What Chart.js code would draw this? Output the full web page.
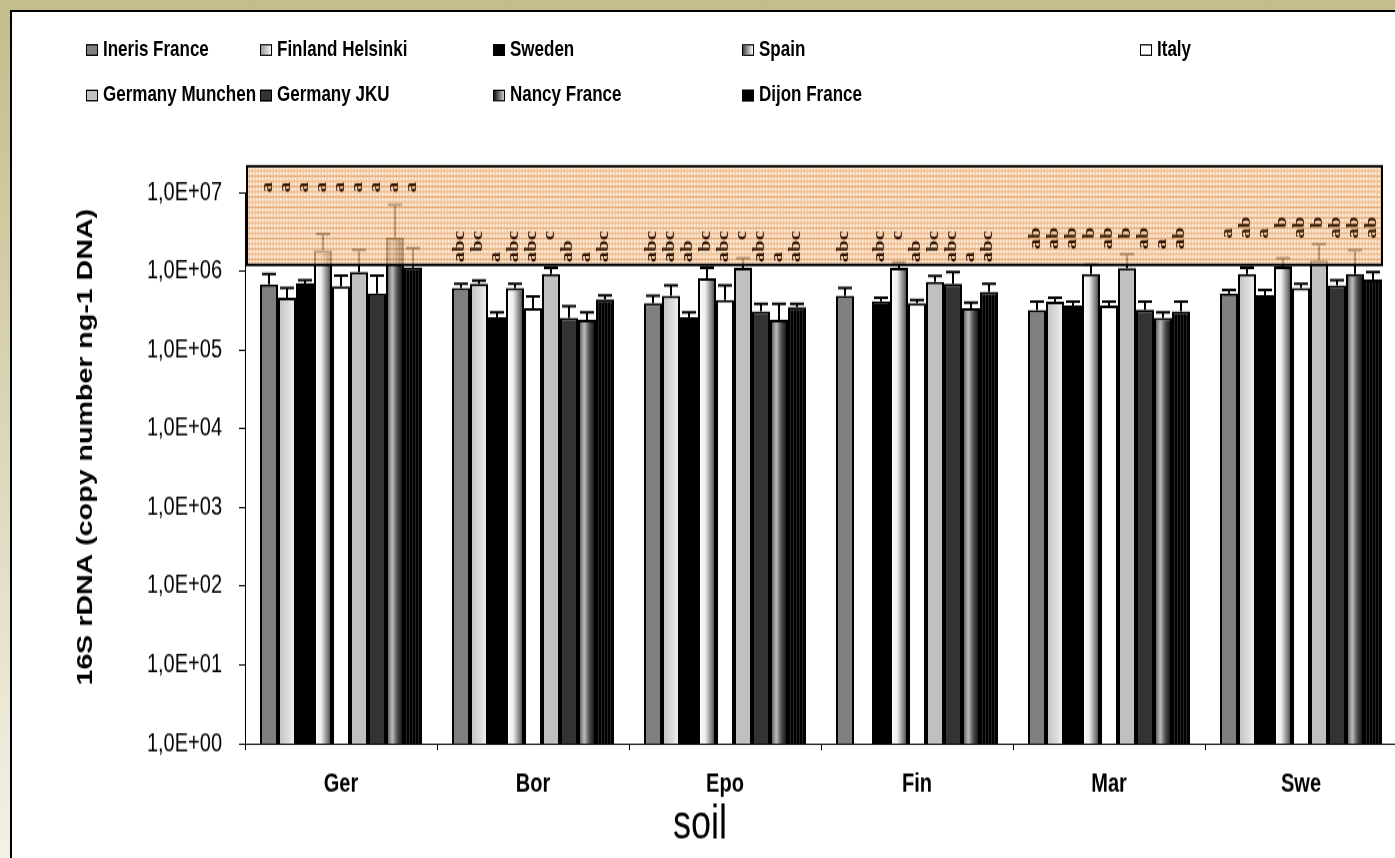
<!DOCTYPE html>
<html>
<head>
<meta charset="utf-8">
<script src="https://cdn.jsdelivr.net/npm/chart.js@4.4.1/dist/chart.umd.min.js"></script>
<style>
  html, body { margin: 0; padding: 0; width: 1395px; height: 858px; overflow: hidden; }
  body { position: relative; background: linear-gradient(#c4bc8a, #f3f1e6); font-family: Arial, "Liberation Sans", sans-serif; }
  #frame { position: absolute; left: 10px; top: 10px; width: 1420px; height: 880px; background: #fff;
           border-left: 2px solid #000; border-top: 2px solid #000; }
  /* the original figure is stretched vertically, so the whole drawing is too */
  #stage { position: absolute; left: 0; top: 0; width: 1420px; height: 660px; transform: scaleY(1.3); transform-origin: 0 0; }
  #c { position: absolute; left: 0; top: 0; }
  .lg { position: absolute; font: bold 17px Arial, "Liberation Sans", sans-serif; color: #000; white-space: nowrap; line-height: 20px; }
  .lg i { display: inline-block; width: 10px; height: 7px; border: 1px solid #000; margin-right: 5px; vertical-align: 0px; }
</style>
</head>
<body>
<div id="frame"></div>
<div id="stage">
  <div id="legend"></div>
  <canvas id="c" width="1420" height="660"></canvas>
</div>
<script>
// --- data ---
const categories = ['Ger', 'Bor', 'Epo', 'Fin', 'Mar', 'Swe'];
const seriesNames = ['Ineris France', 'Finland Helsinki', 'Sweden', 'Spain', 'Italy',
  'Germany Munchen', 'Germany JKU', 'Nancy France', 'Dijon France'];

const ineris   = [6.8e5, 6.1e5, 3.9e5, 4.85e5, 3.2e5, 5.2e5];
const finland  = [4.6e5, 6.9e5, 4.85e5, null, 4.1e5, 9.2e5];
const sweden   = [7.0e5, 2.6e5, 2.6e5, 4.15e5, 3.65e5, 4.95e5];
const spain    = [1.84e6, 6.1e5, 8.1e5, 1.1e6, 9.2e5, 1.15e6];
const italy    = [6.4e5, 3.4e5, 4.3e5, 3.9e5, 3.65e5, 6.1e5];
const munchen  = [9.7e5, 9.2e5, 1.1e6, 7.3e5, 1.09e6, 1.37e6];
const jku      = [5.2e5, 2.55e5, 3.1e5, 6.9e5, 3.25e5, 6.6e5];
const nancy    = [2.67e6, 2.4e5, 2.4e5, 3.4e5, 2.55e5, 9.2e5];
const dijon    = [1.11e6, 4.4e5, 3.5e5, 5.45e5, 3.1e5, 7.8e5];

// upper ends of the error bars
const inerisHi  = [9.2e5, 6.9e5, 4.85e5, 6.1e5, 4.1e5, 5.8e5];
const finlandHi = [6.1e5, 7.6e5, 6.6e5, null, 4.6e5, 1.1e6];
const swedenHi  = [7.7e5, 3.0e5, 3.0e5, 4.6e5, 4.1e5, 5.8e5];
const spainHi   = [2.95e6, 6.9e5, 1.1e6, 1.3e6, 1.22e6, 1.47e6];
const italyHi   = [8.8e5, 4.8e5, 6.6e5, 4.3e5, 4.1e5, 6.9e5];
const munchenHi = [1.86e6, 1.1e6, 1.47e6, 8.7e5, 1.64e6, 2.2e6];
const jkuHi     = [8.8e5, 3.6e5, 3.85e5, 9.7e5, 4.1e5, 7.7e5];
const nancyHi   = [7.0e6, 3.0e5, 3.85e5, 4.0e5, 3.0e5, 1.84e6];
const dijonHi   = [1.97e6, 4.9e5, 3.85e5, 6.9e5, 4.1e5, 9.7e5];

// significance letters, one list per soil, in series order
const lettersGer = ['a', 'a', 'a', 'a', 'a', 'a', 'a', 'a', 'a'];
const lettersBor = ['abc', 'bc', 'a', 'abc', 'abc', 'c', 'ab', 'a', 'abc'];
const lettersEpo = ['abc', 'abc', 'ab', 'bc', 'abc', 'c', 'abc', 'a', 'abc'];
const lettersFin = ['abc', '', 'abc', 'c', 'ab', 'bc', 'abc', 'a', 'abc'];
const lettersMar = ['ab', 'ab', 'ab', 'b', 'ab', 'b', 'ab', 'a', 'ab'];
const lettersSwe = ['a', 'ab', 'a', 'b', 'ab', 'b', 'ab', 'ab', 'ab'];

const yTicks = [1e0, 1e1, 1e2, 1e3, 1e4, 1e5, 1e6, 1e7];

// --- layout / style ---
const values = [ineris, finland, sweden, spain, italy, munchen, jku, nancy, dijon];
const highs = [inerisHi, finlandHi, swedenHi, spainHi, italyHi, munchenHi, jkuHi, nancyHi, dijonHi];
const letters = [lettersGer, lettersBor, lettersEpo, lettersFin, lettersMar, lettersSwe];
const letterBase = [1e7, 1.3e6, 1.3e6, 1.3e6, 1.9e6, 2.6e6]; // where each soil's letters start
const CAT_PCT = 0.84375;
const FONT = 'Arial, "Liberation Sans", sans-serif';

const canvas = document.getElementById('c');
const c2 = canvas.getContext('2d');

function stripes(a, b) {
  const t = document.createElement('canvas');
  t.width = 3; t.height = 4;
  const x = t.getContext('2d');
  x.fillStyle = a; x.fillRect(0, 0, 3, 4);
  x.fillStyle = b; x.fillRect(1, 0, 1, 4);
  return c2.createPattern(t, 'repeat');
}

function boxPattern() {
  const t = document.createElement('canvas');
  t.width = 9; t.height = 8;
  const x = t.getContext('2d');
  x.fillStyle = '#f5cca2'; x.fillRect(0, 0, 9, 8);
  x.fillStyle = '#eeb888';
  for (let i = 0; i < 9; i += 3) x.fillRect(i, 0, 1, 8);
  x.fillStyle = '#dc8f4c'; x.fillRect(0, 7, 9, 1);
  x.fillStyle = '#e9a972'; x.fillRect(0, 3, 9, 1);
  x.fillStyle = '#ffffff';
  for (let i = 1; i < 9; i += 3) { x.fillRect(i, 1, 1, 1); x.fillRect(i, 5, 1, 1); }
  return c2.createPattern(t, 'repeat');
}

// horizontal gradient spanning one bar, placed with the x scale
function barGradient(stops) {
  return ctx => {
    const chart = ctx.chart;
    const xs = chart.scales.x;
    if (!xs || ctx.dataIndex === undefined) return stops[1][1];
    const catW = xs.width / categories.length;
    const bw = catW * CAT_PCT / seriesNames.length;
    const left = xs.getPixelForValue(ctx.dataIndex) - catW * CAT_PCT / 2 + ctx.datasetIndex * bw;
    if (!isFinite(left) || !isFinite(bw) || bw <= 0) return stops[1][1];
    const g = chart.ctx.createLinearGradient(left, 0, left + bw, 0);
    stops.forEach(s => g.addColorStop(s[0], s[1]));
    return g;
  };
}

const fills = [
  '#808080',
  barGradient([[0, '#c0c0c0'], [0.5, '#d8d8d8'], [1, '#f4f4f4']]),
  '#000000',
  barGradient([[0, '#ffffff'], [0.4, '#eeeeee'], [1, '#333333']]),
  '#ffffff',
  '#c0c0c0',
  '#333333',
  barGradient([[0, '#3c3c3c'], [0.35, '#bdbdbd'], [0.65, '#4a4a4a'], [1, '#050505']]),
  stripes('#000000', '#262626')
];
const swatches = ['#808080', 'linear-gradient(90deg,#999,#f4f4f4)', '#000', 'linear-gradient(90deg,#444,#fff)',
  '#fff', '#c0c0c0', '#333', 'linear-gradient(90deg,#111,#ccc)', '#000'];

// legend (coordinates inside the stretched stage)
const legendPos = [[86, 28], [260, 28], [493, 28], [742, 28], [1140, 28],
                   [86, 63], [260, 63], [493, 63], [742, 63]];
const legendEl = document.getElementById('legend');
seriesNames.forEach((name, s) => {
  const d = document.createElement('div');
  d.className = 'lg';
  d.style.left = legendPos[s][0] + 'px';
  d.style.top = legendPos[s][1] + 'px';
  d.innerHTML = '<i style="background:' + swatches[s] + '"></i>' + name;
  legendEl.appendChild(d);
});

const overlayPlugin = {
  id: 'overlay',
  afterDatasetsDraw(chart) {
    const { ctx, chartArea, scales: { y } } = chart;
    // error bars
    ctx.save();
    ctx.strokeStyle = '#000';
    ctx.lineWidth = 2;
    values.forEach((vals, s) => {
      const meta = chart.getDatasetMeta(s);
      vals.forEach((v, i) => {
        const hi = highs[s][i];
        if (v == null || hi == null) return;
        const bar = meta.data[i];
        const y0 = y.getPixelForValue(v), y1 = y.getPixelForValue(hi);
        ctx.beginPath();
        ctx.moveTo(bar.x, y0); ctx.lineTo(bar.x, y1);
        ctx.moveTo(bar.x - 7, y1); ctx.lineTo(bar.x + 7, y1);
        ctx.stroke();
      });
    });
    // shaded letter band
    const bx = chartArea.left + 2, bw = chartArea.right - 15 - bx;
    const by = y.getPixelForValue(2.15e7), bh = y.getPixelForValue(1.2e6) - by;
    ctx.globalAlpha = 0.75;
    ctx.fillStyle = boxPattern();
    ctx.fillRect(bx, by, bw, bh);
    ctx.globalAlpha = 1;
    ctx.lineWidth = 2;
    ctx.strokeRect(bx, by, bw, bh);
    // letters, rotated, a/b/c in fixed slots
    ctx.font = 'bold 16px "Liberation Serif", "Times New Roman", serif';
    ctx.fillStyle = '#351803';
    ctx.textBaseline = 'alphabetic';
    ctx.textAlign = 'left';
    letters.forEach((row, i) => {
      const base = y.getPixelForValue(letterBase[i]);
      row.forEach((txt, s) => {
        if (!txt) return;
        const bar = chart.getDatasetMeta(s).data[i];
        ctx.save();
        ctx.translate(bar.x + 3, base);
        ctx.rotate(-Math.PI / 2);
        'abc'.split('').forEach((ch, k) => {
          if (txt.indexOf(ch) < 0) return;
          ctx.fillText(ch, ctx.measureText('abc'.slice(0, k)).width, 0);
        });
        ctx.restore();
      });
    });
    ctx.restore();
  },
  afterDraw(chart) {
    const { ctx } = chart;
    ctx.save();
    ctx.fillStyle = '#000';
    ctx.textAlign = 'center';
    ctx.textBaseline = 'middle';
    ctx.font = '36px ' + FONT;
    ctx.fillText('soil', 700, 635);
    ctx.translate(86, 344);
    ctx.rotate(-Math.PI / 2);
    ctx.font = 'bold 22px ' + FONT;
    ctx.fillText('16S rDNA (copy number ng-1 DNA)', 0, 0);
    ctx.restore();
  }
};

new Chart(canvas, {
  type: 'bar',
  data: {
    labels: categories,
    datasets: values.map((vals, s) => ({
      label: seriesNames[s],
      data: vals,
      backgroundColor: fills[s],
      borderColor: '#000',
      borderWidth: 2,
      borderSkipped: 'bottom',
      barPercentage: 1,
      categoryPercentage: CAT_PCT
    }))
  },
  options: {
    responsive: false,
    animation: false,
    devicePixelRatio: 1,
    layout: { padding: { left: 0, top: 148, right: 23, bottom: 0 } },
    plugins: { legend: { display: false }, tooltip: { enabled: false } },
    scales: {
      x: {
        grid: { display: true, drawOnChartArea: false, drawTicks: true, tickLength: 5, color: '#000', offset: true },
        border: { display: true, color: '#000', width: 1 },
        ticks: { color: '#000', padding: 14, font: { family: FONT, size: 20, weight: 'bold' } },
        afterFit: s => { s.height = 660 - 572; }
      },
      y: {
        type: 'logarithmic',
        min: 1,
        max: 1e7,
        afterBuildTicks: s => { s.ticks = yTicks.map(v => ({ value: v })); },
        grid: { display: true, drawOnChartArea: false, drawTicks: true, tickLength: 6, color: '#000' },
        border: { display: true, color: '#000', width: 1 },
        ticks: {
          color: '#000', padding: 17,
          font: { family: FONT, size: 20 },
          callback: v => '1,0E+' + String(Math.round(Math.log10(v))).padStart(2, '0')
        },
        afterFit: s => { s.width = 245; }
      }
    }
  },
  plugins: [overlayPlugin]
});
</script>
</body>
</html>
